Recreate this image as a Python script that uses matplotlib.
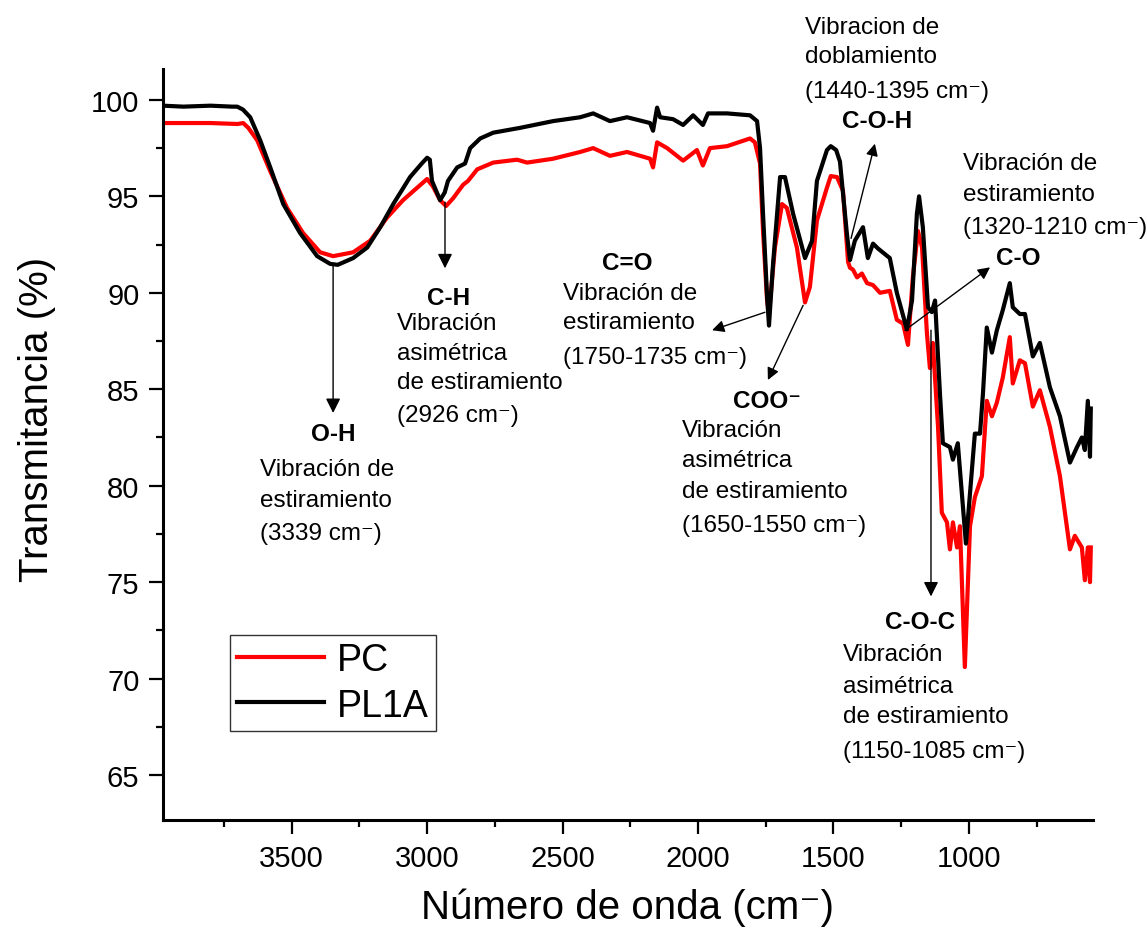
import numpy as np
import matplotlib
matplotlib.use("Agg")
import matplotlib.pyplot as plt

plt.rcParams['font.family'] = ['Liberation Sans', 'DejaVu Sans']

# FTIR spectra (wavenumber in cm-1, transmittance in %)
pl1a_x = [3975, 3900, 3800, 3720, 3701, 3680, 3653, 3616, 3579, 3531, 3469, 3406,
          3358, 3330, 3273, 3221, 3173, 3125, 3063, 3020, 3000, 2990, 2982, 2952,
          2935, 2923, 2889, 2860, 2841, 2804, 2756, 2657, 2535, 2435, 2387, 2325,
          2262, 2177, 2166, 2151, 2140, 2092, 2055, 2018, 1982, 1963, 1893, 1808,
          1782, 1771, 1760, 1745, 1738, 1723, 1697, 1679, 1649, 1605, 1579, 1561,
          1524, 1510, 1490, 1476, 1450, 1439, 1421, 1391, 1373, 1354, 1336, 1292,
          1266, 1229, 1210, 1192, 1184, 1170, 1151, 1137, 1125, 1107, 1096, 1070,
          1059, 1041, 1026, 1011, 996, 978, 959, 948, 934, 915, 897, 875, 849,
          838, 812, 793, 764, 738, 701, 664, 627, 601, 583, 572, 561, 553, 550]
pl1a_y = [99.7, 99.65, 99.7, 99.65, 99.65, 99.5, 99.1, 97.9, 96.5, 94.6, 93.1, 91.9,
          91.5, 91.45, 91.8, 92.35, 93.4, 94.6, 96.0, 96.7, 97.0, 96.9, 95.8, 94.8,
          95.2, 95.8, 96.5, 96.7, 97.5, 98.0, 98.3, 98.55, 98.9, 99.1, 99.3, 98.9,
          99.1, 98.8, 98.4, 99.6, 99.1, 99.0, 98.7, 99.2, 98.7, 99.3, 99.3, 99.2,
          98.9, 97.5, 94.1, 89.8, 88.3, 91.5, 96.0, 96.0, 94.1, 91.8, 92.7, 95.8,
          97.4, 97.6, 97.4, 96.8, 93.0, 91.7, 92.7, 93.4, 91.8, 92.55, 92.3, 91.8,
          90.0, 88.1, 89.6, 94.1, 95.0, 93.4, 89.25, 89.0, 89.6, 84.8, 82.2, 82.0,
          81.35, 82.2, 79.6, 77.0, 79.6, 82.7, 82.7, 84.8, 88.2, 86.9, 88.05, 89.1, 90.5,
          89.25, 88.9, 88.9, 86.7, 87.4, 85.1, 83.6, 81.2, 82.0, 82.5, 81.85, 84.4, 81.5, 84.0]

pc_x = [3975, 3800, 3700, 3679, 3660, 3627, 3579, 3517, 3458, 3395, 3347, 3273,
        3210, 3148, 3089, 3000, 2978, 2952, 2930, 2904, 2867, 2849, 2815, 2756,
        2668, 2631, 2535, 2435, 2387, 2325, 2262, 2177, 2166, 2151, 2114, 2055,
        2004, 1982, 1956, 1893, 1808, 1790, 1771, 1760, 1745, 1738, 1716, 1690,
        1672, 1635, 1605, 1587, 1561, 1524, 1510, 1487, 1465, 1446, 1439, 1428,
        1413, 1395, 1376, 1354, 1328, 1292, 1266, 1243, 1225, 1207, 1188, 1173,
        1155, 1144, 1133, 1114, 1100, 1081, 1070, 1059, 1044, 1033, 1015, 996,
        978, 952, 934, 915, 897, 875, 849, 838, 812, 793, 764, 738, 701, 664,
        627, 609, 583, 572, 561, 553, 550]
pc_y = [98.8, 98.8, 98.75, 98.8, 98.55, 97.9, 96.3, 94.4, 93.1, 92.1, 91.9, 92.1,
        92.7, 93.9, 94.8, 95.9, 95.5, 94.8, 94.5, 94.9, 95.6, 95.8, 96.4, 96.75,
        96.9, 96.75, 96.95, 97.3, 97.5, 97.1, 97.3, 96.95, 96.5, 97.8, 97.5, 96.85,
        97.4, 96.6, 97.5, 97.6, 98.0, 97.8, 96.7, 93.2, 89.6, 88.9, 92.35, 94.6,
        94.4, 92.35, 89.5, 90.3, 93.75, 95.45, 96.05, 96.0, 95.3, 91.6, 91.3, 91.2,
        90.8, 91.0, 90.5, 90.4, 90.0, 90.1, 88.6, 88.4, 87.3, 90.8, 93.2, 92.35,
        87.9, 86.1, 87.4, 83.05, 78.6, 78.1, 76.7, 78.1, 76.8, 77.9, 70.6, 77.9,
        79.4, 80.5, 84.4, 83.6, 84.3, 85.6, 87.7, 85.3, 86.5, 86.35, 84.1, 84.95, 83.05, 80.5,
        76.7, 77.4, 76.8, 75.1, 76.8, 75.0, 76.8]

fig = plt.figure(figsize=(11.47, 9.45), dpi=100)
ax = fig.add_axes([0.1421, 0.1312, 0.8108, 0.7947])

ax.plot(pc_x, pc_y, color='#ff0000', lw=3.0, label='PC')
ax.plot(pl1a_x, pl1a_y, color='black', lw=3.0, label='PL1A')

ax.set_xlim(3975, 542)
ax.set_ylim(62.67, 101.6)
ax.set_xticks([3500, 3000, 2500, 2000, 1500, 1000])
ax.set_xticks(np.arange(3750, 600, -500), minor=True)
ax.set_yticks(np.arange(65, 101, 5))
ax.set_yticks(np.arange(67.5, 100, 5), minor=True)

for side in ['top', 'right']:
    ax.spines[side].set_visible(False)
for side in ['left', 'bottom']:
    ax.spines[side].set_linewidth(2.2)
ax.tick_params(which='major', length=10, width=1.6, labelsize=21, pad=7)
ax.tick_params(which='minor', length=5, width=1.6)

ax.set_xlabel('Número de onda (cm⁻)', fontsize=29)
ax.set_ylabel('Transmitancia (%)', fontsize=29)
ax.xaxis.set_label_coords(0.5, -0.09)
ax.yaxis.set_label_coords(-0.115, 0.535)

leg = ax.legend(loc='lower left', bbox_to_anchor=(0.072, 0.1185), borderaxespad=0,
                fontsize=27, fancybox=False, handlelength=2.3, handletextpad=0.35,
                borderpad=0.2, labelspacing=0.25, framealpha=1)
leg.get_frame().set_edgecolor('#333333')
leg.get_frame().set_linewidth(1.0)
for line in leg.get_lines():
    line.set_linewidth(3.0)

# band assignments: (text, x, y, bold)
labels = [
    ('O-H', 3347, 82.73, True),
    ('Vibración de', 3616, 80.87, False),
    ('estiramiento', 3616, 79.27, False),
    ('(3339 cm⁻)', 3616, 77.56, False),
    ('C-H', 2922, 89.77, True),
    ('Vibración', 3111, 88.42, False),
    ('asimétrica', 3111, 86.87, False),
    ('de estiramiento', 3111, 85.37, False),
    ('(2926 cm⁻)', 3111, 83.67, False),
    ('C=O', 2262, 91.58, True),
    ('Vibración de', 2498, 89.97, False),
    ('estiramiento', 2498, 88.47, False),
    ('(1750-1735 cm⁻)', 2498, 86.66, False),
    ('COO⁻', 1745, 84.44, True),
    ('Vibración', 2059, 82.89, False),
    ('asimétrica', 2059, 81.34, False),
    ('de estiramiento', 2059, 79.74, False),
    ('(1650-1550 cm⁻)', 2059, 77.98, False),
    ('Vibracion de', 1605, 103.78, False),
    ('doblamiento', 1605, 102.28, False),
    ('(1440-1395 cm⁻)', 1605, 100.47, False),
    ('C-O-H', 1338, 98.92, True),
    ('Vibración de', 1022, 96.75, False),
    ('estiramiento', 1022, 95.14, False),
    ('(1320-1210 cm⁻)', 1022, 93.39, False),
    ('C-O', 819, 91.84, True),
    ('C-O-C', 1181, 72.96, True),
    ('Vibración', 1465, 71.26, False),
    ('asimétrica', 1465, 69.6, False),
    ('de estiramiento', 1465, 68.05, False),
    ('(1150-1085 cm⁻)', 1465, 66.24, False),
]
for txt, x, y, bold in labels:
    if bold:
        ax.text(x, y, txt, fontsize=17.5, fontweight='bold', ha='center', va='center')
    else:
        ax.text(x, y, txt, fontsize=17.5, ha='left', va='center')

# arrows: (start, end, head size)
arrows = [
    ((3347, 91.5), (3347, 83.77), 22),
    ((2934, 94.7), (2934, 91.27), 22),
    ((1753, 88.99), (1948, 88.06), 18),
    ((1612, 89.35), (1742, 85.48), 18),
    ((1435, 92.82), (1347, 97.73), 18),
    ((1236, 88.06), (922, 91.32), 18),
    ((1140, 88.06), (1140, 74.26), 22),
]
for (x0, y0), (x1, y1), ms in arrows:
    ax.annotate('', xy=(x1, y1), xytext=(x0, y0),
                arrowprops=dict(arrowstyle='-|>', color='black', lw=1.0,
                                mutation_scale=ms, shrinkA=0, shrinkB=0))

fig.savefig('out.png', dpi=100)
